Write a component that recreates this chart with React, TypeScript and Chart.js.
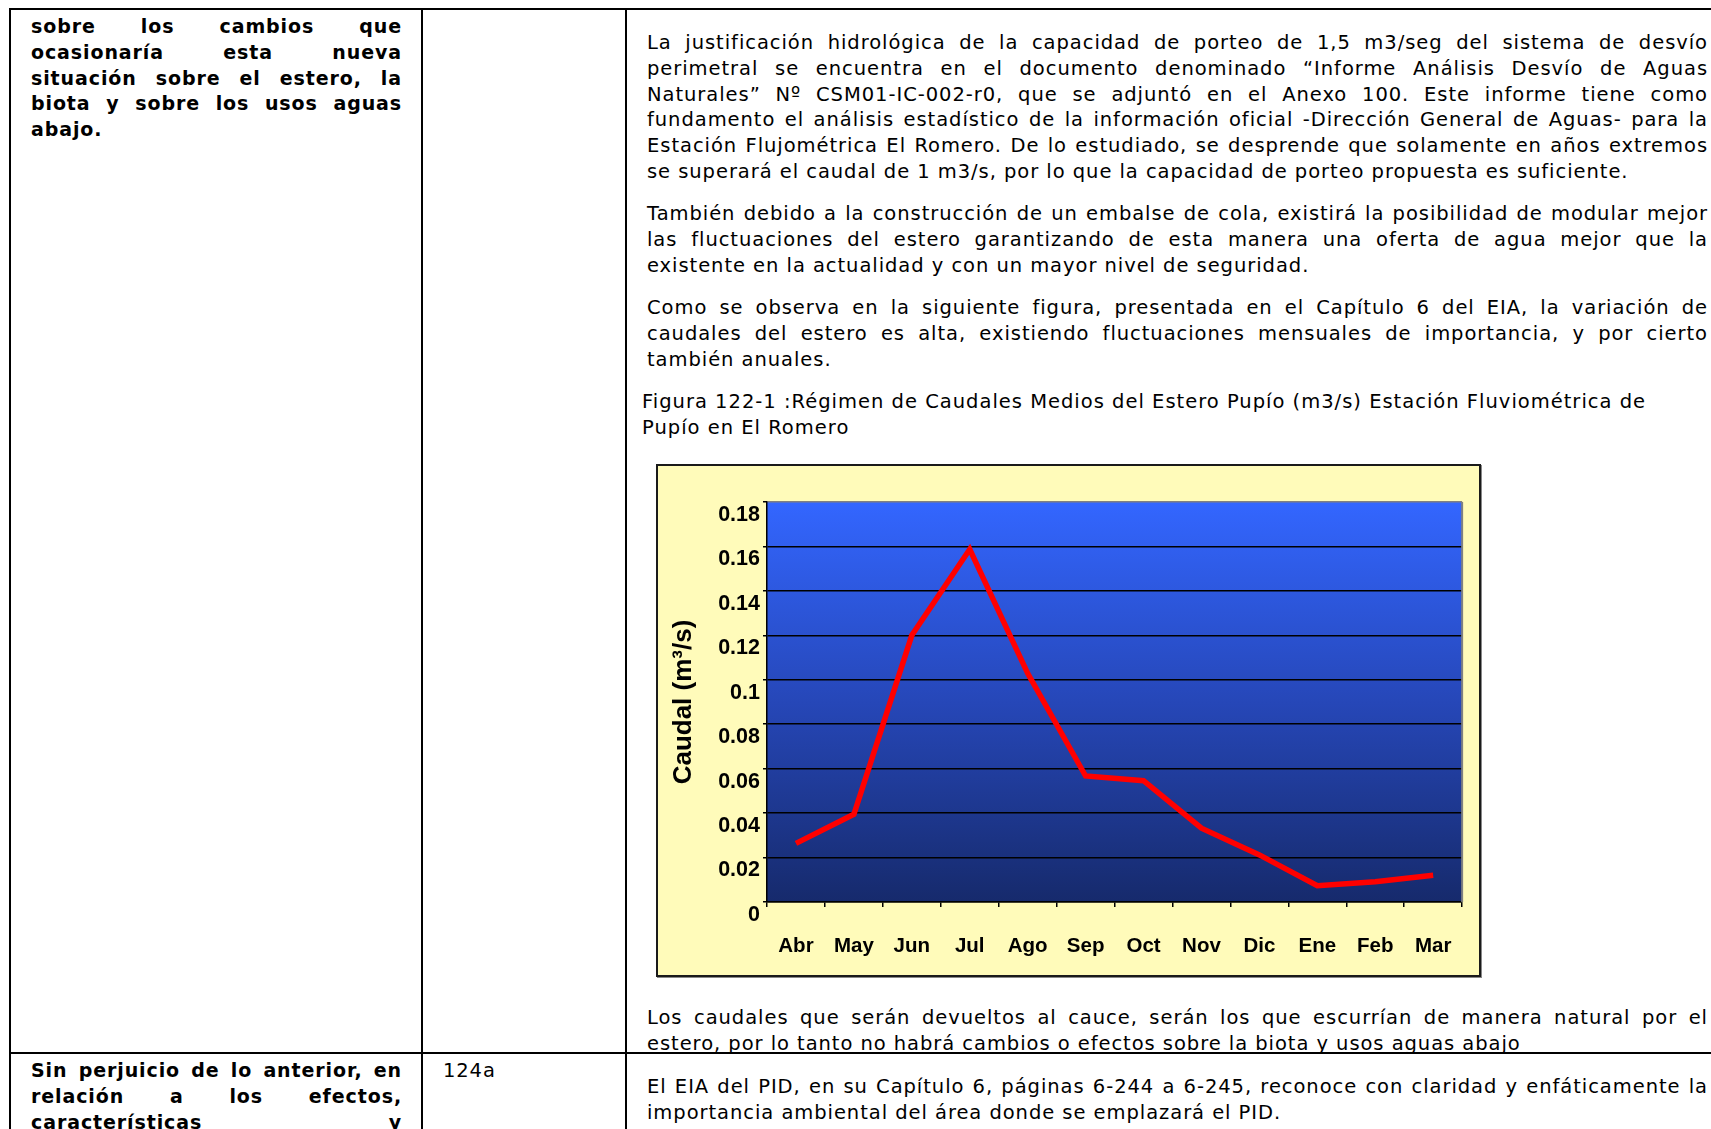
import React, { useEffect, useRef } from "react";
import { Chart, registerables } from "chart.js";

Chart.register(...registerables);

// ---- chart data ----
const months = ["Abr", "May", "Jun", "Jul", "Ago", "Sep", "Oct", "Nov", "Dic", "Ene", "Feb", "Mar"];
const caudal = [0.0264, 0.0395, 0.12, 0.1587, 0.1029, 0.0567, 0.0546, 0.0332, 0.0212, 0.0073, 0.0091, 0.012];
const yMin = 0;
const yMax = 0.18;
const yStep = 0.02;
const yTitle = "Caudal (m³/s)";

// ---- document text ----
const col1Row1 = [
  "sobre los cambios que",
  "ocasionaría esta nueva",
  "situación sobre el estero, la",
  "biota y sobre los usos aguas",
  "abajo.",
];
const col1Row2 = ["Sin perjuicio de lo anterior, en", "relación a los efectos,", "características y"];
const col2Row2 = ["124a"];
const para1 = [
  "La justificación hidrológica de la capacidad de porteo de 1,5 m3/seg del sistema de desvío",
  "perimetral se encuentra en el documento denominado “Informe Análisis Desvío de Aguas",
  "Naturales” Nº CSM01-IC-002-r0, que se adjuntó en el Anexo 100. Este informe tiene como",
  "fundamento el análisis estadístico de la información oficial -Dirección General de Aguas- para la",
  "Estación Flujométrica El Romero. De lo estudiado, se desprende que solamente en años extremos",
  "se superará el caudal de 1 m3/s, por lo que la capacidad de porteo propuesta es suficiente.",
];
const para2 = [
  "También debido a la construcción de un embalse de cola, existirá la posibilidad de modular mejor",
  "las fluctuaciones del estero garantizando de esta manera una oferta de agua mejor que la",
  "existente en la actualidad y con un mayor nivel de seguridad.",
];
const para3 = [
  "Como se observa en la siguiente figura, presentada en el Capítulo 6 del EIA, la variación de",
  "caudales del estero es alta, existiendo fluctuaciones mensuales de importancia, y por cierto",
  "también anuales.",
];
const caption = [
  "Figura 122-1 :Régimen de Caudales Medios del Estero Pupío (m3/s) Estación Fluviométrica de",
  "Pupío en El Romero",
];
const para4 = [
  "Los caudales que serán devueltos al cauce, serán los que escurrían de manera natural por el",
  "estero, por lo tanto no habrá cambios o efectos sobre la biota y usos aguas abajo",
];
const para5 = [
  "El EIA del PID, en su Capítulo 6, páginas 6-244 a 6-245, reconoce con claridad y enfáticamente la",
  "importancia ambiental del área donde se emplazará el PID.",
];

const DOC_FONT = '"DejaVu Sans", Verdana, sans-serif';
const CHART_FONT = '"Liberation Sans", Arial, sans-serif';
const LH = 25.8;

type LinesProps = {
  left: number;
  top: number;
  width: number;
  lines: string[];
  bold?: boolean;
  size: number;
  ls: number;
  justify?: boolean;
  justifyLast?: boolean;
};

function Lines({ left, top, width, lines, bold, size, ls, justify = true, justifyLast = false }: LinesProps) {
  return (
    <div
      style={{
        position: "absolute",
        left,
        top,
        width,
        fontFamily: DOC_FONT,
        fontSize: size,
        fontWeight: bold ? 700 : 400,
        letterSpacing: ls,
        lineHeight: LH + "px",
        color: "#000",
      }}
    >
      {lines.map((t, i) => {
        const isLast = i === lines.length - 1;
        const j = justify && (!isLast || justifyLast);
        return (
          <div
            key={i}
            style={{
              height: LH,
              textAlign: j ? "justify" : "left",
              textAlignLast: j ? "justify" : "left",
              whiteSpace: justify ? "normal" : "nowrap",
            }}
          >
            {t}
          </div>
        );
      })}
    </div>
  );
}

function FlowChart() {
  const ref = useRef<HTMLCanvasElement | null>(null);
  useEffect(() => {
    if (!ref.current) return;
    const plotBg = {
      id: "plotBg",
      beforeDraw(chart: any) {
        const { ctx, chartArea: a } = chart;
        const g = ctx.createLinearGradient(0, a.top, 0, a.bottom);
        g.addColorStop(0, "#3366FF");
        g.addColorStop(0.5, "#2647B8");
        g.addColorStop(1, "#162A6C");
        ctx.save();
        ctx.fillStyle = g;
        ctx.fillRect(a.left, a.top, a.right - a.left, a.bottom - a.top);
        ctx.restore();
      },
      afterDraw(chart: any) {
        const { ctx, chartArea: a } = chart;
        ctx.save();
        ctx.strokeStyle = "#808080";
        ctx.lineWidth = 2;
        ctx.beginPath();
        ctx.moveTo(a.right, a.top);
        ctx.lineTo(a.right, a.bottom);
        ctx.stroke();
        ctx.restore();
      },
    };
    const chart = new Chart(ref.current, {
      type: "line",
      data: {
        labels: months,
        datasets: [
          {
            data: caudal,
            borderColor: "#FF0000",
            backgroundColor: "#FF0000",
            borderWidth: 5.5,
            pointRadius: 0,
            tension: 0,
            borderJoinStyle: "miter",
            borderCapStyle: "butt",
            fill: false,
          },
        ],
      },
      options: {
        animation: false,
        responsive: true,
        maintainAspectRatio: false,
        layout: { padding: { top: 36, right: 14.5, left: 0, bottom: 0 } },
        plugins: { legend: { display: false }, tooltip: { enabled: false } },
        scales: {
          x: {
            type: "category",
            offset: true,
            grid: {
              display: true,
              drawOnChartArea: false,
              drawTicks: true,
              tickLength: 5,
              color: "#000",
              lineWidth: 1.5,
              offset: true,
            },
            border: { color: "#000", width: 1.5 },
            ticks: {
              color: "#000",
              font: { family: CHART_FONT, size: 20.5, weight: "bold" },
              padding: 27,
              maxRotation: 0,
              autoSkip: false,
            },
            afterFit(s: any) {
              s.height = 73;
            },
          },
          y: {
            min: yMin,
            max: yMax,
            ticks: {
              stepSize: yStep,
              color: "#000",
              font: { family: CHART_FONT, size: 21.5, weight: "bold" },
              padding: 3,
              labelOffset: 13,
              callback: (v: any) => String(Number(Number(v).toFixed(2))),
            },
            grid: {
              color: (c: any) => (c.tick && Math.abs(c.tick.value - yMax) < 1e-9 ? "#808080" : "#000"),
              lineWidth: 1.5,
              tickLength: 4,
              tickColor: "#000",
            },
            border: { color: "#000", width: 1.5 },
            title: {
              display: true,
              text: yTitle,
              color: "#000",
              font: { family: CHART_FONT, size: 26, weight: "bold" },
              padding: { top: 10, bottom: 0 },
            },
            afterFit(s: any) {
              s.width = 109;
            },
          },
        },
      },
      plugins: [plotBg],
    } as any);
    return () => chart.destroy();
  }, []);
  return (
    <div
      style={{
        position: "absolute",
        left: 656,
        top: 464,
        width: 825,
        height: 513,
        boxSizing: "border-box",
        border: "2px solid #1a1a1a",
        boxShadow: "1px 1px 0 #888",
        background: "#FFFBBA",
      }}
    >
      <canvas ref={ref} />
    </div>
  );
}

export default function App() {
  const line = (style: React.CSSProperties) => <div style={{ position: "absolute", background: "#000", ...style }} />;
  return (
    <div
      style={{
        position: "absolute",
        left: 0,
        top: 0,
        width: 1711,
        height: 1129,
        overflow: "hidden",
        background: "#fff",
      }}
    >
      {line({ left: 9, top: 8, width: 1702, height: 2 })}
      {line({ left: 9, top: 8, width: 2, height: 1121 })}
      {line({ left: 421, top: 8, width: 2, height: 1121 })}
      {line({ left: 625, top: 8, width: 2, height: 1121 })}
      {line({ left: 9, top: 1052, width: 1702, height: 2 })}

      <Lines left={31} top={14} width={371} lines={col1Row1} bold size={19} ls={0.9} />
      <Lines left={31} top={1058} width={371} lines={col1Row2} bold size={19} ls={0.9} justifyLast />
      <Lines left={443} top={1058} width={160} lines={col2Row2} size={19.5} ls={0.9} justify={false} />

      <Lines left={647} top={30} width={1061} lines={para1} size={19.5} ls={0.95} />
      <Lines left={647} top={201} width={1061} lines={para2} size={19.5} ls={0.95} />
      <Lines left={647} top={295} width={1061} lines={para3} size={19.5} ls={0.95} />
      <Lines left={642} top={389} width={1060} lines={caption} size={19.5} ls={1.0} justify={false} />

      <FlowChart />

      <Lines left={647} top={1005} width={1061} lines={para4} size={19.5} ls={0.95} />
      <Lines left={647} top={1074} width={1061} lines={para5} size={19.5} ls={0.95} />
    </div>
  );
}
